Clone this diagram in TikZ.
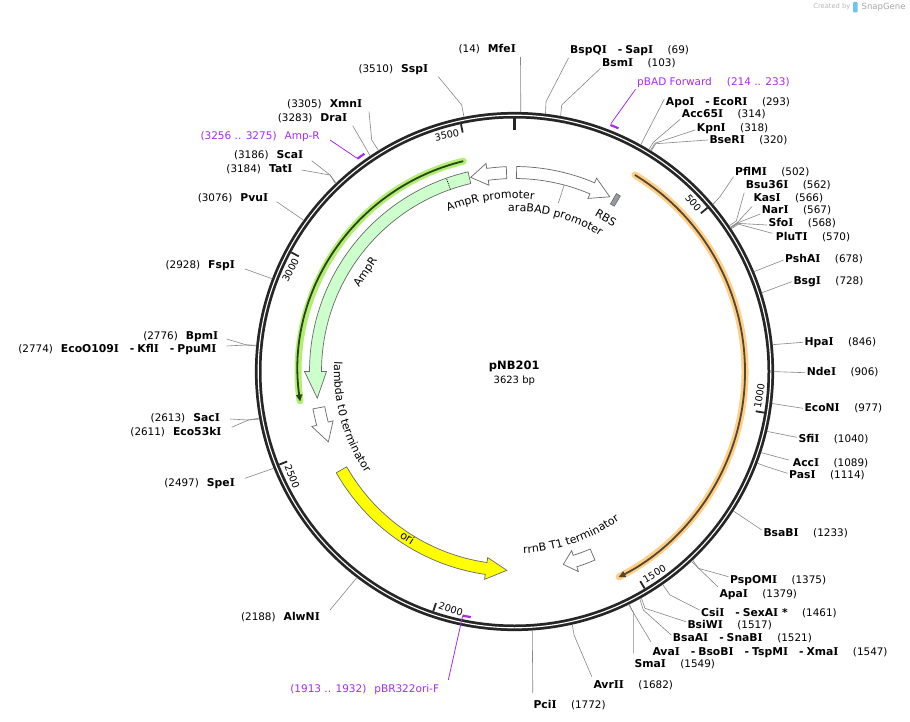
\documentclass[tikz,border=0pt]{standalone}
\usepackage{fontspec}
\setmainfont{DejaVu Sans}
\newfontfamily\serifI{DejaVu Serif}
\usetikzlibrary{calc,decorations.text,arrows.meta}
\definecolor{ringc}{RGB}{38,38,38}
\definecolor{sitec}{RGB}{135,135,135}
\definecolor{primc}{RGB}{165,45,240}
\definecolor{featc}{RGB}{105,105,105}
\definecolor{amprfill}{RGB}{204,255,204}
\definecolor{orifill}{RGB}{255,255,0}
\definecolor{rbsfill}{RGB}{150,155,160}
\definecolor{orfOhalo}{RGB}{255,206,135}
\definecolor{orfOline}{RGB}{85,70,45}
\definecolor{orfGhalo}{RGB}{178,238,115}
\definecolor{orfGline}{RGB}{40,70,20}
\definecolor{logoc}{RGB}{110,195,240}
\newcommand\Ii{{\serifI I}}
\newcommand\Nm[1]{{\fontsize{10.8}{12}\selectfont\bfseries #1}}
\newcommand\Ps[1]{{\fontsize{10.4}{12}\selectfont #1}}
\newcommand\Pp[1]{{\fontsize{10.5}{12}\selectfont #1}}
\newcommand\Ds{\hspace{11pt}\Nm{-}\hspace{3pt}}
\newcommand\Rg{\hspace{14.5pt}}
\newcommand\Lgap{\hspace{8pt}}
\newcommand\Ft{\fontsize{11}{13}\selectfont}
\newcommand\featarrow[4]{\filldraw[#1] ({#2-90}:205) arc[start angle={#2-90}, end angle={#3-90}, radius=205] -- ({#3-90}:210) -- ({#4-90}:199) -- ({#3-90}:188) -- ({#3-90}:193) arc[start angle={#3-90}, end angle={#2-90}, radius=193] -- cycle;}
\begin{document}
\begin{tikzpicture}[x=1pt,y=-1pt,
  site/.style={draw=sitec, line width=0.6pt},
  lab/.style={inner sep=1.5pt, text height=8pt, text depth=2.5pt},
  rl/.style={lab, anchor=west},
  ll/.style={lab, anchor=east},
  ticklab/.style={font=\fontsize{9.7}{11}\selectfont, inner sep=0pt},
  feat/.style={draw=featc, line width=0.7pt},
  primbar/.style={draw=primc, line width=2.2pt},
  primline/.style={draw=primc, line width=0.8pt}]
\fill[white] (0,0) rectangle (910,722);
\useasboundingbox (0,0) rectangle (910,722);

% ---------------- circular map ----------------
\begin{scope}[shift={(514.5,371.5)}]
  \draw[ringc, line width=6.6pt] (0,0) circle[radius=256.3];
  \draw[white, line width=1.1pt] (0,0) circle[radius=256.3];
  % ticks
  \draw[ringc, line width=2.8pt] (-90:241.5) -- (-90:253);
  \foreach \b in {500,1000,1500,2000,2500,3000,3500}
    \draw[ringc, line width=1.8pt] ({\b/3623*360-90}:244.5) -- ({\b/3623*360-90}:253);
  \node[ticklab, rotate=-49.68, anchor=east] (t500) at ({49.68-0.8-90}:245.5) {500};
  \node[ticklab, rotate=80.63, anchor=west] (t1000) at ({99.37-0.8-90}:245.5) {1000};
  \node[ticklab, rotate=30.95, anchor=west] (t1500) at ({149.05-0.8-90}:245.5) {1500};
  \node[ticklab, rotate=-18.73, anchor=west] (t2000) at ({198.73-0.8-90}:245.5) {2000};
  \node[ticklab, rotate=-68.41, anchor=west] (t2500) at ({248.41-0.8-90}:245.5) {2500};
  \node[ticklab, rotate=61.9, anchor=east] (t3000) at ({298.1-0.8-90}:245.5) {3000};
  \node[ticklab, rotate=12.22, anchor=east] (t3500) at ({347.78-0.8-90}:245.5) {3500};
  % site coordinates on the ring
  \foreach \b in {14,69,103,293,314,318,320,502,562,566,567,568,570,678,728,846,906,977,1040,1089,1114,1233,1375,1379,1461,1517,1521,1547,1549,1682,1772,2188,2497,2611,2613,2774,2776,2928,3076,3184,3186,3283,3305,3510}
    {\coordinate (s\b) at ({\b/3623*360-90}:259.5);
     \coordinate (k\b) at ({\b/3623*360-90}:268);}
  % primers
  \draw[primbar] ({21.26-90}:264.5) arc[start angle={21.26-90}, end angle={23.15-90}, radius=264.5];
  \coordinate (pbadS) at ({21.26-90}:266);
  \draw[primbar] ({323.53-90}:264.5) arc[start angle={323.53-90}, end angle={325.42-90}, radius=264.5];
  \coordinate (amprS) at ({323.53-90}:265.5);
  \draw[primbar] ({190.09-90}:249.5) arc[start angle={190.09-90}, end angle={191.97-90}, radius=249.5];
  \coordinate (pbrS) at ({191.97-90}:249.5);
  % ORFs
  \draw[orfOhalo, line width=7pt, line cap=round] ({31.5-90}:230.5) arc[start angle={31.5-90}, end angle={153.0-90}, radius=230.5];
  \draw[orfOline, line width=1.8pt, -{Triangle[length=7pt,width=6pt]}] ({31.5-90}:230.5) arc[start angle={31.5-90}, end angle={153.2-90}, radius=230.5];
  \draw[orfGhalo, line width=7pt, line cap=round] ({346.3-90}:216.5) arc[start angle={346.3-90}, end angle={262.2-90}, radius=216.5];
  \draw[orfGline, line width=1.8pt, -{Triangle[length=7pt,width=6pt]}] ({346.3-90}:216.5) arc[start angle={346.3-90}, end angle={262.0-90}, radius=216.5];
  % features
  \featarrow{feat, fill=white}{357.7}{352.2}{347.3}
  \featarrow{feat, fill=white}{0.6}{23.0}{28.6}
  \featarrow{feat, fill=amprfill}{346.9}{270.0}{262.3}
  \featarrow{feat, fill=white}{259.5}{254.8}{249.3}
  \featarrow{feat, fill=orifill}{240.4}{188.2}{182.2}
  \featarrow{feat, fill=white}{156.9}{162.3}{165.8}
  \filldraw[fill=rbsfill, draw=featc, line width=0.6pt] ({29.8-90}:193) arc[start angle={29.8-90}, end angle={31.1-90}, radius=193] -- ({31.1-90}:205) arc[start angle={31.1-90}, end angle={29.8-90}, radius=205] -- cycle;
  \draw[black, line width=0.7pt, dash pattern=on 1pt off 1pt] ({340.6-90}:193) -- ({340.6-90}:205);
  \draw[site] ({14.9-90}:193) -- ({14.6-90}:174);
  % feature labels
  \path[decorate, decoration={text along path, text align=center, text={|\Ft|AmpR promoter}}] ({322-90}:173) arc[start angle={322-90}, end angle={382-90}, radius=173];
  \path[decorate, decoration={text along path, text align=center, text={|\Ft|araBAD promoter}}] ({-15-90}:160) arc[start angle={-15-90}, end angle={45-90}, radius=160];
  \path[decorate, decoration={text along path, text align=center, text={|\Ft|lambda t0 terminator}}] ({294.5-90}:180.5) arc[start angle={294.5-90}, end angle={214.5-90}, radius=180.5];
  \path[decorate, decoration={text along path, text align=center, text={|\Ft|rrnB T1 terminator}}] ({201-90}:182) arc[start angle={201-90}, end angle={121-90}, radius=182];
  \node[font=\Ft, rotate=-32.8] (tOri) at ({212.8-90}:197.5) {ori};
  \node[font=\Ft, rotate=56.2] (tAmpR) at ({303.8-90}:178.8) {AmpR};
  \node[font=\Ft, rotate=-30.7] (tRBS) at ({30.7-90}:179) {RBS};
\end{scope}

% centre
\node[font=\fontsize{11.5}{13}\selectfont\bfseries] (title) at (514.3,366.7) {pNB201};
\node[font=\fontsize{10}{12}\selectfont] (size) at (514.3,380.7) {3623 bp};

% ---------------- right labels ----------------
\node[rl] (nBspQI) at (568.5,51) {\Nm{BspQ\Ii}\Ds\Nm{Sap\Ii}\Rg\Ps{(69)}};
\node[rl] (nBsmI) at (600.5,64) {\Nm{Bsm\Ii}\Rg\Ps{(103)}};
\node[rl, text=primc] (nPBAD) at (635.5,83) {\Pp{pBAD Forward}\hspace{15pt}\Pp{(214 .. 233)}};
\node[rl] (nApoI) at (664.2,102.3) {\Nm{Apo\Ii}\Ds\Nm{EcoR\Ii}\Rg\Ps{(293)}};
\node[rl] (nAcc65I) at (680.2,115) {\Nm{Acc65\Ii}\Rg\Ps{(314)}};
\node[rl] (nKpnI) at (695.2,128.3) {\Nm{Kpn\Ii}\Rg\Ps{(318)}};
\node[rl] (nBseRI) at (707.8,141) {\Nm{BseR\Ii}\Rg\Ps{(320)}};
\node[rl] (nPflMI) at (733.5,172.3) {\Nm{PflM\Ii}\Rg\Ps{(502)}};
\node[rl] (nBsu36I) at (744.2,185.7) {\Nm{Bsu36\Ii}\Rg\Ps{(562)}};
\node[rl] (nKasI) at (751.8,198.3) {\Nm{Kas\Ii}\Rg\Ps{(566)}};
\node[rl] (nNarI) at (760.2,211) {\Nm{Nar\Ii}\Rg\Ps{(567)}};
\node[rl] (nSfoI) at (766.8,224) {\Nm{Sfo\Ii}\Rg\Ps{(568)}};
\node[rl] (nPluTI) at (774.2,237.3) {\Nm{PluT\Ii}\Rg\Ps{(570)}};
\node[rl] (nPshAI) at (783.5,260) {\Nm{PshA\Ii}\Rg\Ps{(678)}};
\node[rl] (nBsgI) at (791.8,281.7) {\Nm{Bsg\Ii}\Rg\Ps{(728)}};
\node[rl] (nHpaI) at (802.8,342.3) {\Nm{Hpa\Ii}\Rg\Ps{(846)}};
\node[rl] (nNdeI) at (805.2,372.7) {\Nm{Nde\Ii}\Rg\Ps{(906)}};
\node[rl] (nEcoNI) at (802.8,408.3) {\Nm{EcoN\Ii}\Rg\Ps{(977)}};
\node[rl] (nSfiI) at (796.8,440) {\Nm{Sfi\Ii}\Rg\Ps{(1040)}};
\node[rl] (nAccI) at (791.2,463.3) {\Nm{Acc\Ii}\Rg\Ps{(1089)}};
\node[rl] (nPasI) at (787.5,476) {\Nm{Pas\Ii}\Rg\Ps{(1114)}};
\node[rl] (nBsaBI) at (761.8,534) {\Nm{BsaB\Ii}\Rg\Ps{(1233)}};
\node[rl] (nPspOMI) at (728.5,580.7) {\Nm{PspOM\Ii}\Rg\Ps{(1375)}};
\node[rl] (nApaI) at (717.8,594.3) {\Nm{Apa\Ii}\Rg\Ps{(1379)}};
\node[rl] (nCsiI) at (699.5,613.3) {\Nm{Csi\Ii}\Ds\Nm{SexA\Ii{} *}\Rg\Ps{(1461)}};
\node[rl] (nBsiWI) at (685.8,625.7) {\Nm{BsiW\Ii}\Rg\Ps{(1517)}};
\node[rl] (nBsaAI) at (671.2,639) {\Nm{BsaA\Ii}\Ds\Nm{SnaB\Ii}\Rg\Ps{(1521)}};
\node[rl] (nAvaI) at (650.8,652.3) {\Nm{Ava\Ii}\Ds\Nm{BsoB\Ii}\Ds\Nm{TspM\Ii}\Ds\Nm{Xma\Ii}\Rg\Ps{(1547)}};
\node[rl] (nSmaI) at (632.8,665) {\Nm{Sma\Ii}\Rg\Ps{(1549)}};
\node[rl] (nAvrII) at (591.8,686) {\Nm{Avr\Ii\Ii}\Rg\Ps{(1682)}};
\node[rl] (nPciI) at (531.8,705.7) {\Nm{Pci\Ii}\Rg\Ps{(1772)}};

% ---------------- left labels ----------------
\node[ll] (nMfeI) at (517.5,50) {\Ps{(14)}\Lgap\Nm{Mfe\Ii}};
\node[ll] (nSspI) at (429.8,70) {\Ps{(3510)}\Lgap\Nm{Ssp\Ii}};
\node[ll] (nXmnI) at (363.8,105) {\Ps{(3305)}\Lgap\Nm{Xmn\Ii}};
\node[ll] (nDraI) at (348.8,118.3) {\Ps{(3283)}\Lgap\Nm{Dra\Ii}};
\node[ll, text=primc] (nAmpRp) at (321.5,136.7) {\Pp{(3256 .. 3275)}\Lgap\Pp{Amp-R}};
\node[ll] (nScaI) at (304.8,156) {\Ps{(3186)}\Lgap\Nm{Sca\Ii}};
\node[ll] (nTatI) at (294.2,169.3) {\Ps{(3184)}\Lgap\Nm{Tat\Ii}};
\node[ll] (nPvuI) at (269.8,198.3) {\Ps{(3076)}\Lgap\Nm{Pvu\Ii}};
\node[ll] (nFspI) at (236.5,265.7) {\Ps{(2928)}\Lgap\Nm{Fsp\Ii}};
\node[ll] (nBpmI) at (219.8,336.7) {\Ps{(2776)}\Lgap\Nm{Bpm\Ii}};
\node[ll] (nEcoO) at (218.2,350) {\Ps{(2774)}\Lgap\Nm{EcoO109\Ii}\Ds\Nm{Kfl\Ii}\Ds\Nm{PpuM\Ii}};
\node[ll] (nSacI) at (221.5,419) {\Ps{(2613)}\Lgap\Nm{Sac\Ii}};
\node[ll] (nEco53kI) at (223.2,432.3) {\Ps{(2611)}\Lgap\Nm{Eco53k\Ii}};
\node[ll] (nSpeI) at (236.5,483.3) {\Ps{(2497)}\Lgap\Nm{Spe\Ii}};
\node[ll] (nAlwNI) at (321.5,617.7) {\Ps{(2188)}\Lgap\Nm{AlwN\Ii}};
\node[ll, text=primc] (nPbr) at (440.8,690) {\Pp{(1913 .. 1932)}\Lgap\Pp{pBR322ori-F}};

% ---------------- connectors ----------------
\draw[site] (s14) -- ([xshift=3pt,yshift=-7pt]nMfeI.east);
\draw[site] (s69) -- (546,101.7) -- ([yshift=-7pt]nBspQI.west);
\draw[site] (s103) -- (561.7,105) -- ([yshift=-4.3pt]nBsmI.west);
\draw[primline] ([yshift=-6.3pt]nPBAD.west) -- (pbadS);
\draw[site] (s293) -- ([yshift=3pt]nApoI.west);
\draw[site] (s314) -- (k314) -- ([yshift=-4.3pt]nAcc65I.west);
\draw[site] (s318) -- (k318) -- ([yshift=-1.7pt]nKpnI.west);
\draw[site] (s320) -- (k320) -- ([yshift=1pt]nBseRI.west);
\draw[site] (s502) -- (720,196.7) -- ([yshift=-4.4pt]nPflMI.west);
\draw[site] (s562) -- (k562) -- ([yshift=-7pt]nBsu36I.west);
\draw[site] (s566) -- (k566) -- ([yshift=-8.4pt]nKasI.west);
\draw[site] (s567) -- (k567) -- ([yshift=-3pt]nNarI.west);
\draw[site] (s568) -- (k568) -- ([yshift=-1pt]nSfoI.west);
\draw[site] (s570) -- (k570) -- ([xshift=-2pt,yshift=4pt]nPluTI.west);
\draw[site] (s678) -- (nPshAI.west);
\draw[site] (s728) -- (nBsgI.west);
\draw[site] (s846) -- (nHpaI.west);
\draw[site] (s906) -- (nNdeI.west);
\draw[site] (s977) -- (nEcoNI.west);
\draw[site] (s1040) -- ([yshift=2.7pt]nSfiI.west);
\draw[site] (s1089) -- ([xshift=-2.5pt,yshift=3.3pt]nAccI.west);
\draw[site] (s1114) -- (766.7,466.7) -- ([yshift=2.7pt]nPasI.west);
\draw[site] (s1233) -- ([yshift=4pt]nBsaBI.west);
\draw[site] (s1375) -- (698.3,568.3) -- ([yshift=4pt]nPspOMI.west);
\draw[site] (s1379) -- ([yshift=7.6pt]nApaI.west);
\draw[site] (s1461) -- (670,595) -- ([yshift=3.3pt]nCsiI.west);
\draw[site] (s1517) -- (645,608.3) -- ([yshift=4pt]nBsiWI.west);
\draw[site] (s1521) -- (643.3,610) -- ([yshift=4pt]nBsaAI.west);
\draw[site] (s1547) -- (631.7,610) -- ([yshift=10.6pt]nAvaI.west);
\draw[site] (s1549) -- (633.3,612) -- ([xshift=0.5pt,yshift=11.7pt]nSmaI.west);
\draw[site] (s1682) -- (574,635) -- ([yshift=9.3pt]nAvrII.west);
\draw[site] (s1772) -- ([xshift=1pt,yshift=12.4pt]nPciI.west);
\draw[site] (s2188) -- ([xshift=8.5pt,yshift=7.7pt]nAlwNI.east);
\draw[primline] ([xshift=7.5pt,yshift=10pt]nPbr.east) -- (pbrS);
\draw[site] (s2497) -- ([xshift=8.5pt,yshift=5pt]nSpeI.east);
\draw[site] (s2613) -- (248.3,420) -- ([xshift=8.5pt]nSacI.east);
\draw[site] (s2611) -- (248.3,420) -- ([xshift=8.5pt,yshift=5pt]nEco53kI.east);
\draw[site] (s2776) -- (246.7,345) -- ([xshift=6.9pt,yshift=-2.3pt]nBpmI.east);
\draw[site] (s2774) -- (246.7,345) -- ([xshift=8.5pt,yshift=4pt]nEcoO.east);
\draw[site] (s2928) -- ([xshift=8.5pt,yshift=-3.3pt]nFspI.east);
\draw[site] (s3076) -- ([xshift=6.9pt,yshift=-3.4pt]nPvuI.east);
\draw[site] (s3186) -- (330,175) -- ([xshift=6.9pt,yshift=-4.7pt]nScaI.east);
\draw[site] (s3184) -- (330,175) -- ([xshift=7.5pt,yshift=-0.7pt]nTatI.east);
\draw[primline] ([xshift=8.5pt,yshift=-3.3pt]nAmpRp.east) -- (amprS);
\draw[site] (s3283) -- ([xshift=3.9pt,yshift=-7.4pt]nDraI.east);
\draw[site] (s3305) -- (371.7,140) -- ([xshift=5.2pt,yshift=-6.7pt]nXmnI.east);
\draw[site] (s3510) -- (461.7,105) -- ([xshift=8.5pt,yshift=-6.7pt]nSspI.east);

% ---------------- credit ----------------
\node[anchor=east, inner sep=0pt, text=black!28, font=\fontsize{6.7}{8}\selectfont] (cred1) at (850.5,7) {Created by};
\fill[logoc, rounded corners=1pt] (853,2) rectangle (857.5,12.5);
\node[anchor=west, inner sep=0pt, text=black!35, font=\fontsize{8.5}{10}\selectfont] (cred2) at (861.5,7) {SnapGene};
\end{tikzpicture}
\end{document}
